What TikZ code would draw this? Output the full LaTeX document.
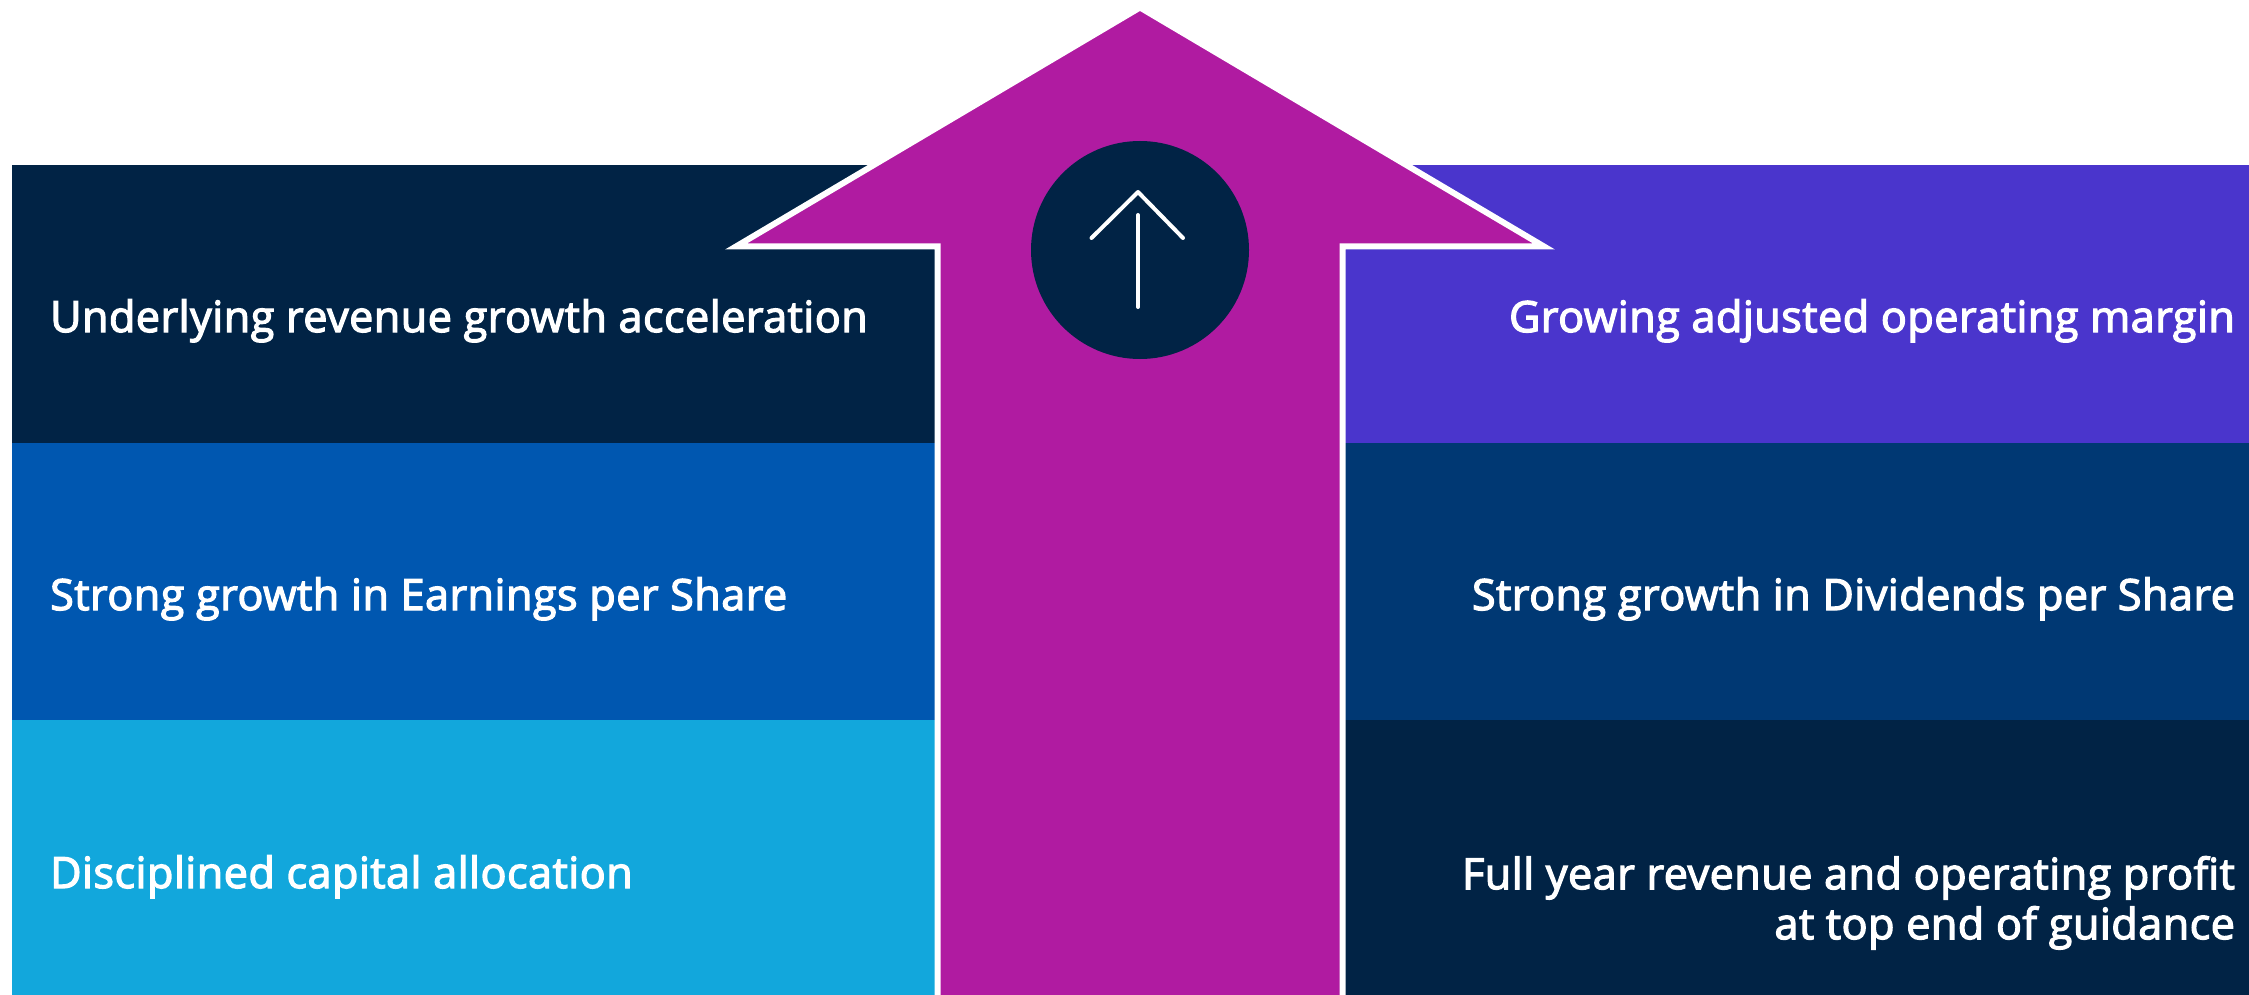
\documentclass[tikz,border=0pt]{standalone}
\usepackage{fontspec}
\setmainfont{Open Sans}[UprightFeatures={FakeBold=3},LetterSpace=1.3]
\definecolor{navy}{HTML}{012345}
\definecolor{blue}{HTML}{0057B0}
\definecolor{cyan}{HTML}{12A7DC}
\definecolor{violet}{HTML}{4A35CC}
\definecolor{midnavy}{HTML}{003873}
\definecolor{magenta}{HTML}{B01BA1}
\tikzset{
  lefttext/.style={anchor=base west,inner sep=0pt,text=white,font=\fontsize{43}{50}\selectfont},
  righttext/.style={anchor=base east,inner sep=0pt,text=white,align=right,font=\fontsize{43}{50}\selectfont},
  bigarrow/.style={fill=magenta,draw=white,line width=6pt,miter limit=12},
  icon/.style={draw=white,line width=4pt,line cap=round,line join=round}
}
\begin{document}
\begin{tikzpicture}[x=1pt,y=-1pt]
\useasboundingbox (0,0) rectangle (2249,995);
\fill[navy] (12,165) rectangle (940,443);
\fill[blue] (12,443) rectangle (940,720);
\fill[cyan] (12,720) rectangle (940,995);
\fill[violet] (1340,165) rectangle (2249,443);
\fill[midnavy] (1340,443) rectangle (2249,720);
\fill[navy] (1340,720) rectangle (2249,995);
\path[bigarrow] (937.5,1005) -- (937.5,246.5) -- (736,246.5) -- (1140,7.5) -- (1544,246.5) -- (1342.5,246.5) -- (1342.5,1005);
\node[circle,fill=navy,minimum size=218pt,inner sep=0pt] (badge) at (1140,250) {};
\draw[icon] (1091.5,238) -- (1138,192) -- (1183,238);
\draw[icon] (1138,215) -- (1138,307);
\node[lefttext] (t1) at (50,332) {Underlying revenue growth acceleration};
\node[lefttext] (t2) at (50,610) {Strong growth in Earnings per Share};
\node[lefttext] (t3) at (50,888) {Disciplined capital allocation};
\node[righttext] (t4) at (2235,332) {Growing adjusted operating margin};
\node[righttext] (t5) at (2235,610) {Strong growth in Dividends per Share};
\node[righttext,anchor=north east] (t6) at (2235,856) {Full year revenue and operating profit\\at top end of guidance};
\end{tikzpicture}
\end{document}
